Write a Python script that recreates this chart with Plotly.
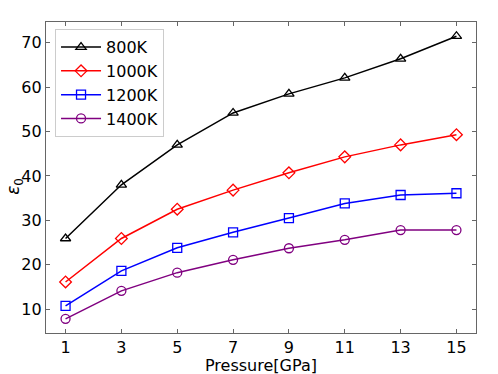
import plotly.graph_objects as go

pressure = [1, 3, 5, 7, 9, 11, 13, 15]

eps_800 = [25.9, 38.0, 47.0, 54.2, 58.5, 62.1, 66.4, 71.5]
eps_1000 = [16.1, 25.9, 32.5, 36.8, 40.7, 44.3, 47.0, 49.3]
eps_1200 = [10.7, 18.6, 23.8, 27.3, 30.5, 33.8, 35.7, 36.1]
eps_1400 = [7.8, 14.1, 18.2, 21.1, 23.7, 25.6, 27.8, 27.8]

series = [
    ('800K', eps_800, 'black', 'triangle-up-open'),
    ('1000K', eps_1000, 'red', 'diamond-open'),
    ('1200K', eps_1200, 'blue', 'square-open'),
    ('1400K', eps_1400, 'purple', 'circle-open'),
]

fig = go.Figure()
for name, vals, col, sym in series:
    fig.add_trace(go.Scatter(
        x=pressure, y=vals, name=name, mode='lines+markers',
        line=dict(color=col, width=1.5),
        marker=dict(symbol=sym, size=9, color=col, line=dict(color=col, width=1.3)),
    ))

axis_common = dict(
    showline=True, linecolor='#666666', linewidth=1.2, mirror='ticks',
    ticks='inside', ticklen=4, tickwidth=1, tickcolor='#666666',
    showgrid=False, zeroline=False, automargin=False,
    tickfont=dict(family='DejaVu Sans', size=16, color='black'),
)

fig.update_xaxes(range=[0.3, 15.7], tickmode='array', tickvals=pressure, **axis_common)
fig.update_yaxes(range=[4.6, 74.7], tickmode='array', tickvals=[10, 20, 30, 40, 50, 60, 70],
                 **axis_common)

# axis titles as annotations so they sit where the reference has them
fig.add_annotation(text='Pressure[GPa]', xref='paper', yref='paper', x=0.5, y=0,
                   xanchor='center', yanchor='middle', yshift=-32, showarrow=False,
                   font=dict(family='DejaVu Sans', size=16, color='black'))
fig.add_annotation(text='<i>ε</i><sub>0</sub>', xref='paper', yref='paper', x=0, y=0.47,
                   xanchor='center', yanchor='middle', xshift=-31, textangle=-90, showarrow=False,
                   borderpad=0, font=dict(family='DejaVu Sans', size=17, color='black'))

# page has an 8px body margin, so the figure is a bit smaller and shifted
fig.update_layout(
    width=490, height=366,
    margin=dict(l=38, r=22, t=14, b=41),
    paper_bgcolor='white', plot_bgcolor='white',
    font=dict(family='DejaVu Sans', size=16, color='black'),
    legend=dict(
        x=0.021, y=0.977, xanchor='left', yanchor='top',
        bgcolor='rgba(255,255,255,0.8)', bordercolor='#cccccc', borderwidth=1,
        font=dict(family='DejaVu Sans', size=16, color='black'),
        tracegroupgap=0, itemwidth=40,
    ),
    showlegend=True,
)

fig.write_html("out.html")
